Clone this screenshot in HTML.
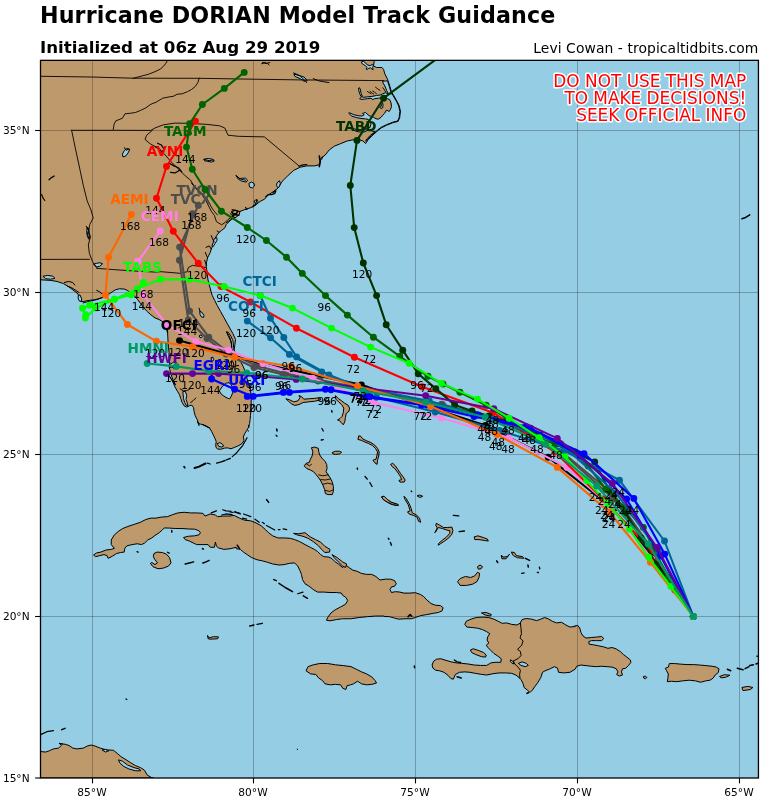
<!DOCTYPE html>
<html lang="en"><head><meta charset="utf-8"><title>Hurricane DORIAN Model Track Guidance</title>
<style>
html,body{margin:0;padding:0;background:#fff}
body{width:768px;height:801px;overflow:hidden;font-family:"DejaVu Sans","Liberation Sans",sans-serif}
svg{display:block}
text{font-family:"DejaVu Sans","Liberation Sans",sans-serif}
.tk{font-size:10.6px;fill:#000}
.hr{font-size:10.6px;fill:#000}
.ml{font-size:13.6px;font-weight:bold}
</style></head><body>
<svg width="768" height="801" viewBox="0 0 768 801">
<rect width="768" height="801" fill="#fff"/>
<defs><clipPath id="c"><rect x="40.5" y="60.35" width="717.95" height="717.65"/></clipPath></defs>
<rect x="40.5" y="60.35" width="717.95" height="717.65" fill="#94cde4"/>
<g clip-path="url(#c)">
<g fill="#be996c" stroke="#000" stroke-width="1" stroke-linejoin="round">
<path d="M40.5,60.35 374.2,60.35 374.22,61.25 373.44,65.94 376.56,67.5 382.03,67.5 383.59,69.45 384.77,73.75 387.5,79.22 389.84,86.25 391.41,91.72 393.75,95.62 396.88,101.09 399.22,105.78 400.39,111.25 400.47,110.99 399.69,117.5 398.12,121.41 392.92,122.71 386.41,125.31 381.2,127.92 377.94,130.52 372.08,135.73 368.18,139.64 365.57,143.54 362.97,140.94 359.06,139.64 353.85,139.64 347.34,140.94 340.83,143.54 334.32,146.15 329.11,150.05 325.21,155 321.09,158.07 319.79,164.58 314.58,165.89 306.77,165.89 300.26,167.19 293.75,170.31 287.24,176.3 282.03,181.51 278.12,188.02 272.92,191.93 267.71,195.31 264.64,199.11 260.73,201.07 258.12,203.02 254.87,205.62 250.96,207.58 247.06,208.88 243.15,210.18 239.9,211.48 239.24,214.74 235.99,217.34 231.43,219.3 228.83,221.9 226.22,224.51 224.92,227.76 221.67,230.36 219.06,232.32 217.11,234.92 215.16,238.18 214.11,242.08 212.55,245.99 211.25,249.24 210.21,252.5 208.91,255.1 207.6,257.71 206.69,261.61 206.04,265.52 206.69,269.43 207.34,274.64 207.99,279.84 209.3,285.05 210.6,290 212.08,295.21 214.69,300.42 217.29,305.62 220.55,311.48 223.8,317.34 227.06,323.2 230.31,329.06 232.92,333.62 235.52,339.48 234.87,344.69 234.22,349.9 235.52,353.8 238.12,357.71 240.73,361.61 243.33,366.82 245.29,372.03 246.98,378.54 248.54,383.75 249.58,388.96 249.84,384.32 250.49,389.53 250.89,394.74 251.15,399.95 251.15,405.16 250.89,410.36 250.49,415.57 250.1,419.48 249.58,423.39 248.54,427.29 246.59,430.55 244.64,433.8 243.33,437.06 243.98,440.31 242.68,442.92 240.08,444.87 237.47,446.17 234.22,447.47 230.96,448.78 227.71,447.86 224.45,448.12 221.2,449.17 217.94,449.17 215.99,447.47 215.73,444.87 216.25,441.61 214.95,438.36 213.39,435.1 211.43,431.2 209.48,427.94 206.22,426.25 202.97,424.69 200.36,424.04 198.41,423.39 197.11,419.48 195.16,415.57 194.11,411.67 193.59,407.76 191.9,405.16 189.3,405.81 186.69,407.11 184.09,405.81 182.14,402.55 180.83,398.65 179.53,394.74 177.58,391.48 174.97,386.93 173.02,382.37 170.42,377.81 167.81,373.91 175.62,385.05 173.02,379.84 171.07,374.64 169.77,369.43 169.11,366.82 169.77,362.92 168.85,357.71 169.11,352.5 168.46,347.29 168.07,342.08 167.81,336.88 167.55,331.67 166.51,326.46 166.46,326.25 163.33,322.08 159.17,319.58 155,317.92 150.83,314.79 146.67,311.04 143.54,307.5 140.42,303.33 137.29,299.17 134.17,295.42 131.04,292.92 127.92,290.83 124.79,289.17 119.58,288.75 115.42,289.79 112.29,291.88 109.17,293.96 105,296.04 101.88,297.5 98.75,298.75 94.58,299.79 90.42,300.21 86.25,300.83 83.12,301.67 81.04,301.25 80,297.08 76.88,292.92 72.71,289.79 68.54,286.67 63.33,283.54 57.08,281.46 50.83,280.42 40.42,279.79 40.5,279.6Z"/>
<path d="M93.54,555 96.67,552.92 100.83,552.08 106.04,550 111.25,549.38 114.38,548.33 111.25,544.58 111.25,540 114.38,534.79 118.54,531.25 122.71,528.54 127.92,526.46 134.17,524.38 140.42,522.29 145.62,519.58 150.83,518.12 156.04,518.12 161.25,517.08 167.5,516.67 172.71,514.58 177.92,512.92 184.17,512.29 190.42,512.92 196.67,512.92 202.92,513.33 205,516.04 210.21,513.96 215.42,515 217.5,516.67 223.75,516.04 230,516.04 234.17,515.42 239.38,518.12 244.58,520.21 250.83,520.83 256.04,522.92 261.25,525.83 265.42,529.58 268.54,532.71 272.71,535.83 277.92,537.92 284.17,537.92 290.42,538.33 294.58,539.58 299.79,541.67 305,544.58 310.21,547.29 314.38,549.38 317.5,551.46 320.62,554.58 323.75,556.67 328.96,557.08 332.08,558.75 335.21,561.88 338.33,563.96 342.5,567.5 345.62,565 349.79,568.12 352.92,570.21 357.08,571.25 361.25,573.33 366.46,574.38 371.67,574.38 375.83,576.46 380,580 385.21,579.17 390.42,579.17 394.58,580.62 396.25,583.75 394.58,586.25 391.46,586.88 390,589.58 391.46,592.5 395.62,591.67 399.79,592.08 403.96,593.12 409.17,593.12 415.42,592.71 420.62,594.58 423.75,596.67 426.88,600 431.04,603.54 435.21,605.21 440.42,605.62 443.12,607.71 442.08,610.83 438.33,612.5 433.12,613.33 426.88,614.58 420.62,615.62 415.42,617.5 411.25,618.75 405,618.75 398.75,619.17 394.58,618.12 389.38,616.67 384.17,616.46 384.17,616.04 375.83,616.04 367.5,616.67 359.17,617.5 350.83,618.75 342.5,618.75 336.25,619.58 330,620.83 326.46,620.21 327.92,617.08 331.04,612.92 335.21,609.79 340.42,607.08 345.62,604.17 347.71,600.42 345.62,597.29 342.5,595.21 341.46,593.12 336.25,592.5 330,592.5 323.75,592.08 317.5,592.08 313.33,589.58 309.17,586.25 305,583.75 302.5,579.58 301.46,574.38 299.79,570.21 297.71,566.04 294.58,562.92 289.38,563.33 284.17,564.58 278.96,565 272.71,563.96 267.5,562.29 262.29,560.83 257.08,559.79 251.88,557.71 247.71,555 243.54,552.08 240.42,549.38 236.25,548.75 236.25,547.29 230,548.75 223.75,549.38 218.54,547.92 216.46,546.25 215.42,542.08 214.38,547.29 210.21,547.29 208.12,544.58 202.92,544.58 196.67,544.58 193.54,543.12 189.38,541.04 185.21,539.58 183.54,537.5 188.33,536.25 194.58,535.83 199.17,534.79 200.42,532.71 198.75,530.62 194.58,529.17 188.33,528.96 182.08,528.54 175.83,528.54 169.58,528.12 164.38,527.92 162.29,530 159.17,532.71 155,535.42 151.88,537.92 147.71,540 144.58,543.12 141.46,544.58 137.29,543.75 132.08,544.58 126.88,545.83 124.79,548.33 124.17,552.08 120.62,552.5 116.46,553.54 112.29,556.25 108.12,558.33 107.08,555.62 103.96,554.58 99.79,555.62 95.62,556.67Z"/>
<path d="M153.96,553.54 157.08,552.08 162.29,552.5 166.46,554.17 169.58,557.71 171.04,562.92 168.54,566.04 163.33,568.12 158.12,568.75 152.92,566.67 150.42,563.33 151.88,562.5 155,564.58 157.5,562.92 155,559.79 153.33,556.67Z"/>
<path d="M207.5,635.42 209.17,637.92 213.33,636.67 218.54,636.88 217.5,638.75 210.21,639.17 208.12,638.75Z"/>
<path d="M293.54,533.33 298.75,533.75 305,532.71 310.21,536.88 315.42,539.58 320.62,542.08 324.79,546.25 330,549.38 329.58,552.08 324.79,552.5 321.67,549.38 318.54,545.83 313.33,541.67 308.12,538.33 302.92,536.25 296.67,534.79Z"/>
<path d="M332.08,554.58 337.29,557.71 342.5,561.88 346.67,563.96 345.62,567.5 342.5,566.04 338.33,561.88 334.17,557.71Z"/>
<path d="M464.79,624.38 466.25,621.25 471.04,619.17 476.25,617.5 482.5,617.08 488.75,617.5 493.96,619.17 498.12,621.25 502.29,623.33 506.46,622.92 511.67,624.38 516.88,625 520,623.33 522.08,619.58 526.25,618.54 531.46,619.17 536.67,620.62 540.83,619.17 544.58,617.5 548.12,618.75 552.29,621.25 556.46,622.92 561.67,622.29 565.83,625 570,627.08 575.21,626.46 574.58,626.04 577.71,625.42 579.79,628.12 580.83,632.29 582.92,635.83 586.04,638.12 591.25,637.5 596.46,637.08 601.67,636.46 603.75,638.54 601.67,640.62 596.46,640.62 591.25,640.62 588.75,641.67 589.17,644.17 593.33,644.79 598.54,645.83 603.75,646.88 607.92,648.33 612.08,647.5 616.25,648.96 620.42,651.67 623.54,654.58 627.08,657.29 630.42,660 630.83,662.5 628.33,665.62 625.62,668.33 622.5,668.75 621.46,671.88 622.5,675 619.38,676.04 616.67,674.58 617.92,671.88 616.25,668.75 612.08,667.08 606.88,666.67 601.67,666.25 596.46,666.67 591.25,666.25 586.04,665.62 580.83,665 576.67,666.25 575.21,669.17 570,672.29 563.75,672.92 558.54,672.29 557.5,668.12 554.38,666.67 550.21,668.75 545,670.83 542.5,672.29 540.83,677.5 537.71,682.71 534.58,686.88 532.5,690 530,692.5 527.29,690 524.17,687.5 523.12,683.75 521.04,679.58 518.96,677.5 515.83,675 511.67,673.33 505.42,672.92 499.17,672.92 492.92,673.75 486.67,675 481.46,674.38 475.21,673.33 470,672.29 464.79,671.88 459.58,672.29 455.42,674.38 453.33,679.17 450.83,678.54 448.12,675.42 443.96,672.29 439.79,670.83 435.62,670.21 432.92,668.12 432.08,665 433.54,661.25 436.67,659.17 440.83,658.75 446.04,660.42 451.25,661.88 456.46,662.92 461.67,663.33 467.92,663.96 474.17,665 480.42,665.42 486.67,665.42 490.83,662.92 495,662.29 500.83,662.29 501.25,658.75 498.12,656.25 493.96,653.54 490.83,650.42 487.71,647.29 486.25,645.21 488.75,643.12 487.08,640 487.71,636.88 489.79,633.75 486.67,631.67 482.5,629.58 477.29,628.12 472.08,627.5 466.88,627.08Z"/>
<path d="M470.42,650 473.12,648.75 478.33,650.42 483.54,652.5 486.25,655 485.62,657.08 481.46,656.67 475.83,654.58 471.67,652.5Z"/>
<path d="M481.46,612.92 486.25,612.5 491.46,614.58 490.42,616.04 485.21,615Z"/>
<path d="M643.33,676.67 645.42,676.04 646.88,677.5 645.42,678.75 643.75,678.12Z"/>
<path d="M665.21,668.33 668.33,667.08 669.38,663.54 674.58,663.54 680.83,664.17 687.08,664.58 693.33,664.58 699.58,665 705.83,665.62 712.08,666.25 716.25,667.08 718.96,668.75 718.33,672.5 715.21,675 713.12,678.12 710,680.21 705.83,680.83 700.62,682.29 695.42,680.83 689.17,680.21 682.92,680.83 676.67,681.67 671.46,681.25 667.29,681.67 667.92,678.12 668.33,673.96 666.67,670.83Z"/>
<path d="M719.56,676.52 724.25,674.7 729.98,675.22 725.55,677.3 721.12,677.82Z"/>
<path d="M741.96,687.46 747.69,686.42 752.9,687.46 750.29,689.54 743,690.58Z"/>
<path d="M305.99,670.79 308.07,666.62 313.28,664.8 319.79,663.5 327.6,663.5 335.42,664.8 343.23,665.58 351.04,666.62 356.25,669.23 361.46,671.83 366.67,673.92 371.88,677.04 375,680.43 376.56,683.03 371.88,684.33 366.67,684.85 361.46,683.81 357.55,681.21 353.65,683.81 350.52,684.85 347.14,685.64 345.83,689.54 342.71,688.24 340.62,684.85 335.42,684.33 330.21,684.85 325,683.81 322.4,680.43 318.49,677.82 315.89,674.44 310.68,673.92Z"/>
<path d="M40.5,751.5 40.36,751.52 45.57,752.04 49.48,750.74 53.39,748.92 58.59,748.14 61.2,745.53 59.9,743.71 65.1,744.23 69.01,745.53 72.92,748.14 76.82,748.92 83.33,748.14 87.24,746.05 91.15,745.01 95.05,746.05 100.26,748.14 106.77,749.96 113.28,750.22 117.19,753.34 121.09,756.73 125,759.07 130.21,762.46 135.42,765.58 140.62,767.67 144.53,770.27 147.14,774.96 151.04,777.3 153.65,778.6 154,778 40.5,778Z"/>
<path d="M285.83,398.75 289.58,399.79 293.75,401.88 297.92,400.83 300,397.71 298.96,395.62 301.67,396.67 303.75,399.17 309.38,398.75 314.58,398.33 319.79,397.71 320.83,399.79 314.58,401.25 308.33,401.88 303.12,402.5 298.96,404.58 294.79,405.42 291.67,403.96 288.54,401.25Z"/>
<path d="M335.42,395.62 338.54,398.75 341.67,400.83 344.79,403.33 347.92,405 349.58,408.12 348.96,411.25 346.25,413.33 345.42,417.5 344.79,421.67 343.33,424.79 341.25,422.71 339.58,420.62 337.5,420 340,418.54 342.08,416.46 343.33,412.29 343.75,408.12 341.67,404.58 338.54,401.88 335.83,399.17Z"/>
<path d="M311.46,447.71 314.58,447.08 318.33,448.33 318.75,451.88 319.79,455 321.88,458.12 325,461.25 326.67,464.38 327.08,468.54 326.04,471.67 328.12,474.79 330.21,477.92 332.29,482.08 333.33,486.25 333.33,491.46 332.29,494.58 328.12,494.58 325.42,493.54 324.58,489.38 322.92,485.21 320.83,481.04 318.75,477.92 316.25,474.79 313.54,471.67 310.42,470 306.67,468.54 304.17,465.83 306.25,463.33 309.38,462.29 310.42,459.17 312.08,456.04 312.92,451.88Z"/>
<path d="M332.29,452.5 335.42,451.25 339.58,451.25 341.67,452.29 339.58,453.96 335.42,454.38 332.92,453.96Z"/>
<path d="M357.92,439.38 358.75,435.83 360.83,436.25 362.5,438.75 366.67,440.83 370.83,442.5 374.58,445 377.5,448.33 379.17,451.88 378.75,456.04 377.5,460.21 377.08,464.38 375,462.92 372.92,460.21 376.04,459.17 377.08,455 377.5,451.88 375.42,448.33 372.5,445.62 368.75,443.54 364.58,441.88 361.46,440.42Z"/>
<path d="M390.62,464.38 392.71,463.33 395.42,465.83 397.92,469.58 400.42,473.33 403.12,476.88 405.21,480 404.17,482.08 400,482.08 398.96,480.42 401.67,479.58 400,475.83 397.5,472.08 394.79,468.54 392.08,466.46Z"/>
<path d="M381.67,497.08 383.75,496.25 386.46,499.17 390.62,501.88 395.83,503.96 398.33,505 395.83,505.42 390.62,503.96 385.83,501.25 382.92,499.17Z"/>
<path d="M457.5,581.67 460.21,578.54 465.42,576.46 470.62,577.5 474.79,575.83 477.5,572.29 479.58,573.33 478.96,577.5 476.88,581.67 472.71,584.17 466.46,585.42 460.21,585.42Z"/>
<path d="M477.5,566.67 480,565 482.5,566.67 481.04,568.75 478.33,569.17Z"/>
<path d="M436.25,523.33 439.38,525 443.54,527.5 447.71,527.5 451.88,527.08 452.92,530.62 451.88,534.17 448.75,537.92 444.58,541.04 440.42,543.75 438.33,545.21 438.33,543.75 442.5,540 446.67,536.88 449.79,533.33 449.79,530.62 446.67,530 442.5,528.54 438.33,527.5 435.83,531.67 434.79,532.71 437.29,527.92 435.83,525.42Z"/>
<path d="M474.17,536.88 477.92,535.83 483.12,537.5 487.29,538.96 488.33,541.04 484.17,540.42 478.96,539.58 474.79,539.58Z"/>
<path d="M403.96,496.25 406.04,498.33 409.17,503.54 411.25,508.75 412.29,512.92 416.46,515 419.58,518.12 420.62,522.29 418.54,521.25 417.08,517.08 413.33,515.42 409.17,513.96 407.5,511.88 410.21,510.83 408.12,504.58 405,499.38Z"/>
<path d="M381.67,496.67 384.17,496.25 387.29,499.38 391.46,502.5 397.71,504.17 398.33,505.42 392.5,504.58 387.29,502.08 383.12,499.38Z"/>
<path d="M417.08,495.83 419.58,495 422.71,496.25 420,497.5Z"/>
<path d="M501.25,555 502.92,557.08 507.08,556.67 509.58,554.17 506.04,558.75 501.88,558.75Z"/>
<path d="M511.25,552.08 514.38,552.5 516.46,555.62 522.71,556.67 523.75,558.33 517.5,557.71 513.33,555.62Z"/>
</g>
<g fill="#94cde4" stroke="#000" stroke-width="1" stroke-linejoin="round">
<path d="M518.33,663.33 522.08,661.88 526.25,663.33 528.33,665.42 525.21,666.67 521.04,665.42Z"/>
<path d="M510.62,659.79 512.71,661.25 514.17,663.96 512.08,663.33 510.21,661.25Z"/>
<path d="M118.49,759.85 122.4,761.16 127.6,765.06 134.11,767.67 139.32,768.97 140.62,770.79 135.42,770.79 128.91,768.97 123.7,766.36 119.79,762.98Z"/>
<path d="M102.08,749.96 105.47,749.44 108.85,750.74 105.47,752.04Z"/>
<path d="M380.56,102.79 382.38,102.33 383.02,105.07 382.66,107.8 381.02,108.44 379.65,107.34 381.2,106.43 381.47,104.43Z"/>
<path d="M361.72,61.64 363.67,61.25 365.62,63.2 367.97,65.16 370.31,65.55 372.66,64.38 373.44,65.94 372.66,67.5 373.05,69.84 371.88,69.06 370.7,67.89 368.75,68.28 367.19,69.45 366.02,69.06 367.19,67.5 365.62,65.94 363.28,64.38 361.56,63.2Z"/>
<path d="M219.24,390.83 222.5,386.28 226.41,383.02 229.01,382.76 231.35,384.97 232.92,388.88 232.66,392.79 231.35,396.04 229.66,398.91 227.06,397.99 223.8,396.04 221.2,394.09Z"/>
<path d="M182.79,391.48 185.39,391.48 186.69,395.39 186.04,399.3 187.34,403.2 187.99,405.81 186.04,405.16 184.74,402.55 183.44,398.65 183.18,394.74Z"/>
<path d="M217.29,443.57 219.9,442.66 222.5,444.22 223.54,446.17 221.2,447.08 218.59,446.17Z"/>
<path d="M169.11,364.87 172.37,362.92 174.97,360.96 176.28,362.27 174.58,364.87 175.62,367.47 173.67,368.78 171.98,366.82 170.16,367.47Z"/>
<path d="M226.41,331.67 228.36,332.32 230.96,336.22 232.92,340.78 233.57,345.99 232.92,350.55 231.35,349.24 231.61,344.69 230.31,340.13 228.36,336.22Z"/>
<path d="M199.71,311.48 201.67,312.14 204.01,315.39 203.62,317.34 201.67,317.08 200.1,314.74Z"/>
<path d="M199.32,335.57 201.02,334.92 202.32,336.61 201.02,337.92 199.58,337.14Z"/>
<path d="M211.04,357.71 212.73,357.06 213.65,359.66 212.6,361.35 211.43,360.05Z"/>
<path d="M210.78,375.68 212.34,375.29 212.73,376.98 211.43,377.5Z"/>
<path d="M214.11,238.83 216.72,237.53 217.11,240.13 215.16,243.39 213.2,246.64 211.9,245.99 213.2,242.73Z"/>
<path d="M122.4,154.17 124.48,150.26 127.08,148.44 129.69,149.48 128.12,152.86 125.52,156.25 122.92,156.77Z"/>
<path d="M87.5,227.08 89.06,229.69 88.54,233.59 90.1,238.02 88.54,239.06 86.98,234.38 86.72,230.21Z"/>
<path d="M203.96,159.17 208.12,158.54 212.29,159.17 214.38,160.83 211.67,162.08 207.5,161.25 204.58,160.83Z"/>
<path d="M235.86,175.31 237.81,176.88 239.77,178.83 242.37,178.18 245.62,178.18 247.58,180.13 246.28,182.08 243.02,181.43 240.42,180.52 238.07,178.83Z"/>
<path d="M248.88,183.39 251.48,182.08 254.09,183.39 254.48,185.99 252.4,187.94 249.53,187.03Z"/>
<path d="M293.75,73.96 298.96,75.52 304.17,77.08 307.29,80.73 304.17,81.25 300.26,78.65 295.05,76.56Z"/>
<path d="M42.92,276.25 47.71,275.42 52.92,276.25 55,278.33 50.83,279.17 45.62,278.75Z"/>
<path d="M78.33,295.42 80,295 81.67,298.75 81.25,301.67 79.17,300.83 78.12,298.12Z"/>
<path d="M93.54,264.17 96.67,263.33 99.79,262.71 102.5,263.75 99.79,266.25 96.25,267.08Z"/>
<path d="M277.14,182.73 279.48,180.78 280.26,183.39 279.48,186.64 277.66,187.55 276.48,185.34Z"/>
<path d="M254.22,200.96 256.69,199.4 257.86,201.61 256.17,203.44 254.35,202.66Z"/>
<path d="M360.51,90.03 359.6,87.75 358.68,88.02 358.68,90.03 359.6,93.67 360.96,96.41 361.81,96.69 362.33,96.22 361.15,93.67Z"/>
<path d="M364.61,99.14 367.34,98.68 370.99,98.23 372.81,99.6 374.64,98.68 378.28,98.23 381.02,97.77 383.75,98.23 387.4,98.68 389.67,99.6 391.04,102.79 391.5,106.43 390.59,109.17 389.22,111.45 386.48,110.08 384.66,113.27 382.84,115.09 381.02,117.37 378.28,119.19 376,118.74 373.72,117.37 371.45,116.46 369.17,115.73 365.52,112.54 362.6,113.36 364.15,114.91 361.88,116.09 358.23,115.73 353.67,114.64 349.11,112.63 348.66,113.27 351.85,116.18 356.41,117.55 360.96,118.46 365.52,118.92 368.26,119.38 369.17,121.02 370.99,123.75 370.08,127.4 367.34,128.76 363.7,129.67 358.23,129.95 353.67,128.76 349.57,127.4 350.03,128.31 353.67,130.31 358.23,131.77 363.7,132.14 367.34,130.59 371.9,130.86 375.52,131.94 377.57,130.11 377.6,130.09 380.86,127.49 380.9,127.46 380.95,127.43 386.16,124.82 386.21,124.8 392.72,122.2 392.79,122.18 397.71,120.94 399.15,117.36 399.87,111.41 399.85,111.37 398.7,105.96 396.39,101.35 393.28,95.9 391.94,93.67 388.31,93.67 385.57,92.76 382.84,93.67 380.1,95.04 376.46,95.49 371.9,96.41 367.34,96.86 363.7,97.32 361.81,96.69 359.6,98.68 360.96,99.32Z"/>
<path d="M372.81,133.32 370.08,135.6 367.34,138.33 365.7,140.52 366.23,141.57 367.72,139.33 367.75,139.29 367.79,139.25 371.69,135.34 371.71,135.32 375.44,132Z"/>
<path d="M387.4,80.91 382.66,81.09 383.02,82.92 384.84,85.92 386.67,90.48 388.49,93.85 391.96,93.71 390.94,92 390.92,91.96 390.9,91.92 390.88,91.87 389.31,86.41 387.59,81.22Z"/>
</g>
<g fill="none" stroke="#000" stroke-linejoin="round" stroke-linecap="round">
<path stroke-width="1.0" d="M520.42,623.33 521.04,628.54 521.46,633.75 520,637.92 523.12,641.04 521.67,645.21 517.5,649.38 520.42,651.46 521.04,655.62 517.92,658.75 513.33,660.83 514.79,663.96 517.92,667.08 520.42,670.21 519.58,674.38 520,678.54"/>
<path stroke-width="1.6" d="M276.67,429.17 277.08,430.83"/>
<path stroke-width="1.2" d="M276.04,435.21 277.08,436.25"/>
<path stroke-width="1.3" d="M321.88,428.54 323.33,431.04"/>
<path stroke-width="1.3" d="M321.25,440 323.33,439.58"/>
<path stroke-width="1.5" d="M331.67,410.83 332.08,412.08"/>
<path stroke-width="1.5" d="M357.29,468.12 357.5,469.17"/>
<path stroke-width="1.3" d="M365,476.46 367.29,479.17"/>
<path stroke-width="1.3" d="M369.79,482.5 372.08,486.46"/>
<path stroke-width="1.2" d="M266.67,499.79 268.75,502.5"/>
<path stroke-width="1.4" d="M453.33,515.42 458.75,515.83"/>
<path stroke-width="1.4" d="M459.17,531.67 464.38,531.04"/>
<path stroke-width="1.5" d="M388.33,538.33 388.96,539.17"/>
<path stroke-width="1.4" d="M390.42,542.5 391.46,545.21"/>
<path stroke-width="1.5" d="M525.42,558.33 529.58,560.42"/>
<path stroke-width="1.5" d="M496.67,560.83 497.71,562.5"/>
<path stroke-width="1.5" d="M527.92,565 528.33,567.08"/>
<path stroke-width="1.3" d="M521.67,573.33 524.17,572.92"/>
<path stroke-width="1.3" d="M537.29,572.29 538.33,572.5"/>
<path stroke-width="1.3" d="M539.38,567.08 539.79,568.75"/>
<path stroke-width="1.3" d="M411.25,491.04 411.67,491.67"/>
<path stroke-width="1.2" d="M230,511.88 233.12,512.5"/>
<path stroke-width="1.2" d="M235.21,511.88 240.42,513.96"/>
<path stroke-width="1.2" d="M243.54,513.96 250.83,516.67"/>
<path stroke-width="1.2" d="M242.5,518.12 246.67,519.17"/>
<path stroke-width="1.2" d="M255,519.17 259.17,522.29"/>
<path stroke-width="1.2" d="M262.29,522.29 264.38,523.75"/>
<path stroke-width="1.2" d="M266.46,525.42 274.79,530"/>
<path stroke-width="1.2" d="M278.33,529.58 280,529.58"/>
<path stroke-width="1.2" d="M283.12,528.96 286.67,529.58"/>
<path stroke-width="1.2" d="M266.46,499.38 268.54,502.08"/>
<path stroke-width="1.5" d="M273.75,579.58 276.25,580.62"/>
<path stroke-width="1.5" d="M278.96,583.33 285.21,587.5 292.5,591.67"/>
<path stroke-width="1.3" d="M297.71,593.75 302.92,592.08"/>
<path stroke-width="1.5" d="M303.33,595.83 307.5,598.33"/>
<path stroke-width="1.4" d="M249.79,626.04 253.96,625"/>
<path stroke-width="1.4" d="M257.08,624.38 262.29,623.33"/>
<path stroke-width="1.5" d="M237.29,545.21 239.38,548.33"/>
<path stroke-width="1.5" d="M171.67,530.62 171.88,532.08"/>
<path stroke-width="1.5" d="M137.08,551.67 138.12,552.08"/>
<path stroke-width="1.3" d="M167.5,552.29 169.17,553.12"/>
<path stroke-width="1.5" d="M202.5,548.54 203.33,549.17"/>
<path stroke-width="1.5" d="M185.21,563.96 189.38,562.92 193.54,561.88"/>
<path stroke-width="1.5" d="M202.92,562.92 206.04,561.88 209.17,560.42"/>
<path stroke-width="1.2" d="M211.25,512.92 216.46,510.83"/>
<path stroke-width="1.2" d="M222.71,509.79 225.83,510.83 231.04,511.25"/>
<path stroke-width="1.2" d="M234.17,511.88 240,513.33"/>
<path stroke-width="1.2" d="M221.67,515 225.83,513.96 232.08,514.58"/>
<path stroke-width="1.6" d="M408.12,616.67 410.21,614.58 411.67,616.25"/>
<path stroke-width="1.5" d="M457.08,676.67 461.25,677.92"/>
<path stroke-width="1.4" d="M454.38,660 457.08,661.88 460.62,662.5"/>
<path stroke-width="1.6" d="M527.08,693.33 528.33,692.71"/>
<path stroke-width="1.5" d="M414.32,666.1 414.58,667.67"/>
<path stroke-width="1.5" d="M727.38,669.23 730.76,670.79"/>
<path stroke-width="1.5" d="M737.27,668.19 743,669.75"/>
<path stroke-width="1.5" d="M745.08,668.71 748.99,666.62"/>
<path stroke-width="1.5" d="M749.77,665.58 753.42,664.8"/>
<path stroke-width="1.5" d="M756.02,664.02 758.62,662.98"/>
<path stroke-width="1.3" d="M756.8,656.21 758.1,656.47"/>
<path stroke-width="1.3" d="M41.15,734.33 46.88,731.73 53.39,730.69"/>
<path stroke-width="1.5" d="M61.72,729.65 65.1,728.34"/>
<path stroke-width="1.3" d="M126.04,698.92 126.82,699.44"/>
<path stroke-width="1.2" d="M59.38,743.45 62.5,743.97"/>
<path stroke-width="1.0" d="M297.14,749.18 297.66,749.44"/>
<path stroke-width="1.5" d="M741.96,218.75 745.6,217.45 749.77,214.84"/>
<path stroke-width="0.9" d="M375.55,87.29 377.83,88.93 380.1,90.48"/>
<path stroke-width="0.9" d="M372.81,90.94 374.64,92.3 376.46,93.67"/>
<path stroke-width="0.9" d="M370.08,91.39 371.9,92.76 373.72,94.13"/>
<path stroke-width="0.9" d="M367.34,91.39 369.17,92.58 370.99,93.67"/>
<path stroke-width="0.9" d="M382.84,87.75 384.21,89.57 385.57,91.85"/>
<path stroke-width="0.9" d="M40.5,76.3 91,77 133,78.2 198.8,78.3 253,79.2 300,79.9 383.5,80.6"/>
<path stroke-width="0.9" d="M133.12,78.33 142.5,75.83 148.75,74.17 155,71.67 160.21,69.17 163.33,66.46 165.83,63.33 167.5,60.42"/>
<path stroke-width="0.9" d="M113.28,129.43 114.06,124.22 115.89,120.83 122.4,118.23 125,113.8 130.21,113.28 135.42,112.5 140.62,110.42 145.83,107.81 151.04,104.17 156.25,102.08 162.76,98.18 169.27,96.88 173.18,96.35 177.08,94.27 182.29,93.75 187.5,91.67 191.41,89.58 195.31,86.46 197.92,82.55 199.22,78.12"/>
<path stroke-width="0.9" d="M71.6,130.3 113.3,130.3 150.8,130.4 155,128 163.3,124.8 174.8,123.1 190.4,123.3 207,124.4 219.6,125.8 224.8,128 228,135.2 238.3,136.3 264.4,136.9 299,165.9"/>
<path stroke-width="0.9" d="M152.29,130.42 146.67,135.21 145,139.38 149.79,143.54 157.08,147.71 164.38,153.96 170.62,161.25 174.79,165.42 180,170.62 185.21,175.83 190.42,180 193.54,185.21 198.75,190.42 207.08,198.75 210.21,205 213.33,210.21 217.5,215"/>
<path stroke-width="0.9" d="M191.46,183.12 195.62,188.33 201.88,194.58 206.04,200.83 208.12,205 211.25,211.25 214.38,215.42 216.46,221.67 221.67,224.79 224.79,222.71 227.92,219.58 234.17,215.42"/>
<path stroke-width="0.9" d="M71.6,130.2 75.5,149 79.4,167 83.3,185.4 87.2,201 91,210 93.2,218 89.8,224.5 88.8,230 87.92,228.33 90.42,236.67 88.33,245 89.38,253.33 92.5,261.67 96.67,267.5"/>
<path stroke-width="0.9" d="M40.5,259.4 89.4,259.3"/>
<path stroke-width="0.9" d="M96.67,268.33 113.33,269.58 134.17,271.04 155,272.08 161,271.7 180,273.3 187.3,271.7 188.3,267.5 192.5,265.4 200.8,266.5 205.4,267.5"/>
<path stroke-width="1.0" d="M180.18,388.88 183.44,390.83 186.69,390.57 189.3,389.53"/>
<path stroke-width="1.0" d="M190.6,402.55 193.2,400.6 195.81,397.99"/>
<path stroke-width="1.2" d="M197.76,422.08 199.06,425.34"/>
<path stroke-width="1.2" d="M202.97,424.69 206.22,426.25 209.48,427.94"/>
<path stroke-width="1.0" d="M199.06,308.23 200.1,311.48"/>
<path stroke-width="1.2" d="M166.51,329.06 167.55,332.32"/>
<path stroke-width="1.0" d="M227.06,332.32 229.66,336.88 231.35,342.08 231.88,347.29"/>
<path stroke-width="1.0" d="M247.89,430.16 248.28,431.2"/>
<path stroke-width="1.0" d="M248.54,425.34 249.06,427.29"/>
<path stroke-width="1.8" d="M184.09,466.74 184.74,467.66"/>
<path stroke-width="2.0" d="M194.51,467.92 199.06,466.61 203.62,464.4 205.57,463.49"/>
<path stroke-width="1.3" d="M207.53,463.1 210.13,464.01"/>
<path stroke-width="1.4" d="M216.64,463.1 221.2,461.8 225.1,460.49"/>
<path stroke-width="1.4" d="M226.41,459.84 230.31,458.28"/>
<path stroke-width="1.2" d="M232.27,456.59 236.17,453.33 239.43,449.43 242.68,445.52 245.29,440.96 246.98,437.71"/>
<path stroke-width="1.0" d="M254.87,205.62 256.17,202.37 256.82,199.77"/>
<path stroke-width="1.0" d="M239.9,211.48 235.99,210.57 232.08,209.53"/>
<path stroke-width="1.0" d="M237.29,215.39 234.04,213.44 231.43,212.14"/>
<path stroke-width="1.0" d="M234.69,217.6 232.08,215.39 230.13,213.44"/>
<path stroke-width="1.0" d="M231.43,219.3 228.83,220.99 226.22,222.55"/>
<path stroke-width="1.0" d="M219.06,232.32 217.11,231.02"/>
<path stroke-width="1.0" d="M214.11,242.08 212.55,238.83 211.25,235.57"/>
<path stroke-width="1.0" d="M211.25,249.24 209.3,245.99 206.04,247.29"/>
<path stroke-width="1.0" d="M207.6,257.71 206.3,255.1 205.39,252.5"/>
<path stroke-width="1.0" d="M206.69,265.52 205.52,262.92 204.74,260.31"/>
<path stroke-width="1.0" d="M124.48,147.66 126.3,150.26 128.91,148.96"/>
<path stroke-width="1.3" d="M48.96,179.69 51.56,177.6 54.17,176.04"/>
<path stroke-width="1.1" d="M41.67,194.53 42.97,197.92 44.79,200.52"/>
<path stroke-width="1.2" d="M157.55,143.23 161.46,145.05 164.06,148.96 161.98,152.08"/>
<path stroke-width="1.2" d="M155.73,146.88 159.38,148.96 162.76,152.86"/>
<path stroke-width="1.2" d="M169.27,163.28 173.96,165.89 178.39,167.71 181.77,171.88"/>
<path stroke-width="1.2" d="M170.57,172.4 175,172.92 179.69,170.31"/>
<path stroke-width="1.0" d="M261.67,63.75 265,62.5 267.92,63.75 269.17,65"/>
<path stroke-width="1.0" d="M293.75,72.92 300.26,76.04 306.77,82.55"/>
<path stroke-width="1.0" d="M313.28,78.65 318.49,80.73 323.7,81.77 328.91,82.55"/>
<path stroke-width="1.0" d="M262.5,62.5 266.41,63.54 269.79,62.5"/>
<path stroke-width="1.0" d="M203.91,159.38 209.11,160.68 213.54,159.9"/>
<path stroke-width="1.0" d="M236.46,176.3 240.36,178.91 245.57,180.21"/>
<path stroke-width="1.0" d="M64.38,282.5 68.54,281.46 72.71,282.5 74.79,285"/>
<path stroke-width="1.0" d="M67.5,286.25 71.67,287.71 75.83,290.42 78.96,292.5"/>
<path stroke-width="1.0" d="M83.12,302.92 89.38,301.25 96.67,299.58 102.92,297.5 108.12,295"/>
<path stroke-width="1.0" d="M96.67,290.42 99.79,291.88 101.88,293.96"/>
<path stroke-width="1.0" d="M86.25,226.25 88.33,230.42 87.29,234.58 89.38,238.75"/>
<path stroke-width="0.9" d="M318.75,474.79 322.92,475.83 328.12,474.79"/>
<path stroke-width="0.9" d="M320.83,479.58 325.42,480 330.21,478.96"/>
<path stroke-width="0.9" d="M323.33,484.17 327.5,483.12 332.29,484.17"/>
<path stroke-width="0.9" d="M325.42,490.42 329.58,491.46 332.92,490"/>
<path stroke-width="0.9" d="M306.25,463.75 309.38,465.83 311.46,464.38"/>
<path stroke-width="1.6" d="M319.32,156.04 320.1,161.25 319.32,166.72"/>
<path stroke-width="1.0" d="M322.71,156.69 321.8,159.3"/>
<path stroke-width="1.3" d="M265.81,196.67 268.41,194.58 271.67,194.58 274.92,193.28 275.83,190.68"/>
<path stroke-width="1.3" d="M272.97,192.5 274.92,191.2"/>
<path stroke-width="1.2" d="M245.62,207.47 246.93,209.43"/>
<path stroke-width="1.2" d="M252.79,206.82 254.09,204.87"/>
<path stroke-width="1.4" d="M231.95,211.38 235.21,210.08 237.81,211.38 236.51,213.33 233.26,213.98 231.95,212.68"/>
<path stroke-width="1.4" d="M232.6,215.29 235.86,214.64 238.85,215.29"/>
<path stroke-width="1.2" d="M299.01,166.2 302.92,164.9 306.82,164.64"/>
</g>
<g stroke="#000" stroke-opacity="0.25" stroke-width="1" fill="none">
<line x1="92.5" y1="60.35" x2="92.5" y2="778.0"/>
<line x1="253.5" y1="60.35" x2="253.5" y2="778.0"/>
<line x1="415.5" y1="60.35" x2="415.5" y2="778.0"/>
<line x1="577.5" y1="60.35" x2="577.5" y2="778.0"/>
<line x1="739.5" y1="60.35" x2="739.5" y2="778.0"/>
<line x1="40.5" y1="130.5" x2="758.45" y2="130.5"/>
<line x1="40.5" y1="292.5" x2="758.45" y2="292.5"/>
<line x1="40.5" y1="454.5" x2="758.45" y2="454.5"/>
<line x1="40.5" y1="616.5" x2="758.45" y2="616.5"/>
</g>
<g stroke-linejoin="round" stroke-linecap="butt">
<path d="M693.3,616.4 654,552 614,495 562,452 502.6,420.8 441.7,404.3 366,389 320,380 285.8,373.6 256.5,365.8 228,352 208.8,337.1 189.6,311.1 179.6,247.1 198.3,205.4" fill="none" stroke="#4d4d4d" stroke-width="2.1"/><g fill="#4d4d4d"><circle cx="693.3" cy="616.4" r="3.45"/><circle cx="654" cy="552" r="3.45"/><circle cx="614" cy="495" r="3.45"/><circle cx="562" cy="452" r="3.45"/><circle cx="502.6" cy="420.8" r="3.45"/><circle cx="441.7" cy="404.3" r="3.45"/><circle cx="366" cy="389" r="3.45"/><circle cx="320" cy="380" r="3.45"/><circle cx="285.8" cy="373.6" r="3.45"/><circle cx="256.5" cy="365.8" r="3.45"/><circle cx="228" cy="352" r="3.45"/><circle cx="208.8" cy="337.1" r="3.45"/><circle cx="189.6" cy="311.1" r="3.45"/><circle cx="179.6" cy="247.1" r="3.45"/><circle cx="198.3" cy="205.4" r="3.45"/></g>
<path d="M693.3,616.4 654.5,553 612,497.5 563,453.5 504,422 443,405.5 368,390.5 318,381 283,374.5 254,367.5 226,354 207,338.5 188.3,320 179.4,260.2 192.5,213.8" fill="none" stroke="#4d4d4d" stroke-width="2.1"/><g fill="#4d4d4d"><circle cx="693.3" cy="616.4" r="3.45"/><circle cx="654.5" cy="553" r="3.45"/><circle cx="612" cy="497.5" r="3.45"/><circle cx="563" cy="453.5" r="3.45"/><circle cx="504" cy="422" r="3.45"/><circle cx="443" cy="405.5" r="3.45"/><circle cx="368" cy="390.5" r="3.45"/><circle cx="318" cy="381" r="3.45"/><circle cx="283" cy="374.5" r="3.45"/><circle cx="254" cy="367.5" r="3.45"/><circle cx="226" cy="354" r="3.45"/><circle cx="207" cy="338.5" r="3.45"/><circle cx="188.3" cy="320" r="3.45"/><circle cx="179.4" cy="260.2" r="3.45"/><circle cx="192.5" cy="213.8" r="3.45"/></g>
<g class="hr" text-anchor="middle"><text x="612.8" y="510.4">24</text><text x="501.4" y="436.2">48</text><text x="364.8" y="404.4">72</text><text x="284.6" y="389.0">96</text><text x="226.8" y="367.4">120</text><text x="188.4" y="326.5">144</text><text x="197.1" y="220.8">168</text></g><text class="ml" text-anchor="middle" fill="#4d4d4d" x="197.0" y="195.1">TVCN</text>
<g class="hr" text-anchor="middle"><text x="610.8" y="512.9">24</text><text x="502.8" y="437.4">48</text><text x="366.8" y="405.9">72</text><text x="281.8" y="389.9">96</text><text x="224.8" y="369.4">120</text><text x="187.1" y="335.4">144</text><text x="191.3" y="229.2">168</text></g><text class="ml" text-anchor="middle" fill="#4d4d4d" x="190.8" y="204.3">TVCX</text>
<path d="M693.3,616.4 653,557 609.7,506 548.2,457.3 485.6,425.5 361.4,384.9 263,364 179.5,340.6" fill="none" stroke="#000000" stroke-width="2.1"/><g fill="#000000"><circle cx="693.3" cy="616.4" r="3.45"/><circle cx="653" cy="557" r="3.45"/><circle cx="609.7" cy="506" r="3.45"/><circle cx="548.2" cy="457.3" r="3.45"/><circle cx="485.6" cy="425.5" r="3.45"/><circle cx="361.4" cy="384.9" r="3.45"/><circle cx="263" cy="364" r="3.45"/><circle cx="179.5" cy="340.6" r="3.45"/></g>
<path d="M693.3,616.4 652,559 610.5,506.5 567.1,467.4 509.1,437.8 441.4,417.9 373.8,402.4 312.5,378.2 263,363.8 228.6,350.1 195.8,341.4 167.3,325 143,295 138,261.3 160.2,231" fill="none" stroke="#ff80e6" stroke-width="2.1"/><g fill="#ff80e6"><circle cx="693.3" cy="616.4" r="3.45"/><circle cx="652" cy="559" r="3.45"/><circle cx="610.5" cy="506.5" r="3.45"/><circle cx="567.1" cy="467.4" r="3.45"/><circle cx="509.1" cy="437.8" r="3.45"/><circle cx="441.4" cy="417.9" r="3.45"/><circle cx="373.8" cy="402.4" r="3.45"/><circle cx="312.5" cy="378.2" r="3.45"/><circle cx="263" cy="363.8" r="3.45"/><circle cx="228.6" cy="350.1" r="3.45"/><circle cx="195.8" cy="341.4" r="3.45"/><circle cx="167.3" cy="325" r="3.45"/><circle cx="143" cy="295" r="3.45"/><circle cx="138" cy="261.3" r="3.45"/><circle cx="160.2" cy="231" r="3.45"/></g>
<path d="M693.3,616.4 652,551 603,499 555,452 493.1,412.7 422.1,386.7 354.4,357.3 296.4,328.2 250.5,302 221,286.6 198.3,263.3 173.3,231.3 156.5,198.3 166.5,166.5 195.4,121.3" fill="none" stroke="#ff0000" stroke-width="2.1"/><g fill="#ff0000"><circle cx="693.3" cy="616.4" r="3.45"/><circle cx="652" cy="551" r="3.45"/><circle cx="603" cy="499" r="3.45"/><circle cx="555" cy="452" r="3.45"/><circle cx="493.1" cy="412.7" r="3.45"/><circle cx="422.1" cy="386.7" r="3.45"/><circle cx="354.4" cy="357.3" r="3.45"/><circle cx="296.4" cy="328.2" r="3.45"/><circle cx="250.5" cy="302" r="3.45"/><circle cx="221" cy="286.6" r="3.45"/><circle cx="198.3" cy="263.3" r="3.45"/><circle cx="173.3" cy="231.3" r="3.45"/><circle cx="156.5" cy="198.3" r="3.45"/><circle cx="166.5" cy="166.5" r="3.45"/><circle cx="195.4" cy="121.3" r="3.45"/></g>
<path d="M693.3,616.4 675,590 657,565 641,538 625.3,512.5 609,490 594.7,462 575,452 557.3,443.7 540,435 523,428 506,421.5 489,416 472,411 454.7,404.9 435.8,388.6 418.2,373.7 402.7,350.2 386.2,324.7 376.6,295.6 363.3,263 354.2,227.6 350.3,185.4 357,140.4 383.6,98.2 470,34.2" fill="none" stroke="#003200" stroke-width="2.1"/><g fill="#003200"><circle cx="693.3" cy="616.4" r="3.45"/><circle cx="675" cy="590" r="3.45"/><circle cx="657" cy="565" r="3.45"/><circle cx="641" cy="538" r="3.45"/><circle cx="625.3" cy="512.5" r="3.45"/><circle cx="609" cy="490" r="3.45"/><circle cx="594.7" cy="462" r="3.45"/><circle cx="575" cy="452" r="3.45"/><circle cx="557.3" cy="443.7" r="3.45"/><circle cx="540" cy="435" r="3.45"/><circle cx="523" cy="428" r="3.45"/><circle cx="506" cy="421.5" r="3.45"/><circle cx="489" cy="416" r="3.45"/><circle cx="472" cy="411" r="3.45"/><circle cx="454.7" cy="404.9" r="3.45"/><circle cx="435.8" cy="388.6" r="3.45"/><circle cx="418.2" cy="373.7" r="3.45"/><circle cx="402.7" cy="350.2" r="3.45"/><circle cx="386.2" cy="324.7" r="3.45"/><circle cx="376.6" cy="295.6" r="3.45"/><circle cx="363.3" cy="263" r="3.45"/><circle cx="354.2" cy="227.6" r="3.45"/><circle cx="350.3" cy="185.4" r="3.45"/><circle cx="357" cy="140.4" r="3.45"/><circle cx="383.6" cy="98.2" r="3.45"/></g>
<path d="M693.3,616.4 668,578 643.4,527.5 624,507 605.8,489.3 588.2,465.9 572,452 555,444 538.2,438 486.2,405.3 459.9,392.3 443,384 428,376.3 399.8,356.3 373.4,337.2 347.4,315.1 325.5,295.6 302.3,273.4 286.5,257.2 266.4,240.5 247.3,227.5 221.4,211.2 205,189.5 192.3,169.2 186.5,147.1 189.6,123.8 202.4,104.5 224.3,88.4 244.2,72.4" fill="none" stroke="#006400" stroke-width="2.1"/><g fill="#006400"><circle cx="693.3" cy="616.4" r="3.45"/><circle cx="668" cy="578" r="3.45"/><circle cx="643.4" cy="527.5" r="3.45"/><circle cx="624" cy="507" r="3.45"/><circle cx="605.8" cy="489.3" r="3.45"/><circle cx="588.2" cy="465.9" r="3.45"/><circle cx="572" cy="452" r="3.45"/><circle cx="555" cy="444" r="3.45"/><circle cx="538.2" cy="438" r="3.45"/><circle cx="486.2" cy="405.3" r="3.45"/><circle cx="459.9" cy="392.3" r="3.45"/><circle cx="443" cy="384" r="3.45"/><circle cx="428" cy="376.3" r="3.45"/><circle cx="399.8" cy="356.3" r="3.45"/><circle cx="373.4" cy="337.2" r="3.45"/><circle cx="347.4" cy="315.1" r="3.45"/><circle cx="325.5" cy="295.6" r="3.45"/><circle cx="302.3" cy="273.4" r="3.45"/><circle cx="286.5" cy="257.2" r="3.45"/><circle cx="266.4" cy="240.5" r="3.45"/><circle cx="247.3" cy="227.5" r="3.45"/><circle cx="221.4" cy="211.2" r="3.45"/><circle cx="205" cy="189.5" r="3.45"/><circle cx="192.3" cy="169.2" r="3.45"/><circle cx="186.5" cy="147.1" r="3.45"/><circle cx="189.6" cy="123.8" r="3.45"/><circle cx="202.4" cy="104.5" r="3.45"/><circle cx="224.3" cy="88.4" r="3.45"/><circle cx="244.2" cy="72.4" r="3.45"/></g>
<path d="M693.3,616.4 658.4,551.2 616,493 560.5,443.6 492.5,419.5 429.3,401 358,386.5 321.7,371.9 289.4,354.4 270.5,337.8 247.3,321.1" fill="none" stroke="#006699" stroke-width="2.1"/><g fill="#006699"><circle cx="693.3" cy="616.4" r="3.45"/><circle cx="658.4" cy="551.2" r="3.45"/><circle cx="616" cy="493" r="3.45"/><circle cx="560.5" cy="443.6" r="3.45"/><circle cx="492.5" cy="419.5" r="3.45"/><circle cx="429.3" cy="401" r="3.45"/><circle cx="358" cy="386.5" r="3.45"/><circle cx="321.7" cy="371.9" r="3.45"/><circle cx="289.4" cy="354.4" r="3.45"/><circle cx="270.5" cy="337.8" r="3.45"/><circle cx="247.3" cy="321.1" r="3.45"/></g>
<path d="M693.3,616.4 664.5,541 619.5,480.2 564.5,450.8 499.5,430.5 435.2,412.1 376.4,397.3 328.9,374.9 296.6,356.9 283.8,337.5 270.5,318.2 260.2,295.5" fill="none" stroke="#006699" stroke-width="2.1"/><g fill="#006699"><circle cx="693.3" cy="616.4" r="3.45"/><circle cx="664.5" cy="541" r="3.45"/><circle cx="619.5" cy="480.2" r="3.45"/><circle cx="564.5" cy="450.8" r="3.45"/><circle cx="499.5" cy="430.5" r="3.45"/><circle cx="435.2" cy="412.1" r="3.45"/><circle cx="376.4" cy="397.3" r="3.45"/><circle cx="328.9" cy="374.9" r="3.45"/><circle cx="296.6" cy="356.9" r="3.45"/><circle cx="283.8" cy="337.5" r="3.45"/><circle cx="270.5" cy="318.2" r="3.45"/><circle cx="260.2" cy="295.5" r="3.45"/></g>
<path d="M693.3,616.4 660.5,556 626.6,499 580,455.5 530.4,428.1 474,416.5 421.5,405 366,397 325.4,389.2 283.4,392.4 247.3,396.4" fill="none" stroke="#0000ff" stroke-width="2.1"/><g fill="#0000ff"><circle cx="693.3" cy="616.4" r="3.45"/><circle cx="660.5" cy="556" r="3.45"/><circle cx="626.6" cy="499" r="3.45"/><circle cx="580" cy="455.5" r="3.45"/><circle cx="530.4" cy="428.1" r="3.45"/><circle cx="474" cy="416.5" r="3.45"/><circle cx="421.5" cy="405" r="3.45"/><circle cx="366" cy="397" r="3.45"/><circle cx="325.4" cy="389.2" r="3.45"/><circle cx="283.4" cy="392.4" r="3.45"/><circle cx="247.3" cy="396.4" r="3.45"/></g>
<path d="M693.3,616.4 664.7,554.1 633.8,498.4 584,453.6 526,426.7 478,415 426.7,405 369.9,396.6 331.1,389.7 289.4,392.4 253.2,396.4 234.6,389.2 211.6,379" fill="none" stroke="#0000ff" stroke-width="2.1"/><g fill="#0000ff"><circle cx="693.3" cy="616.4" r="3.45"/><circle cx="664.7" cy="554.1" r="3.45"/><circle cx="633.8" cy="498.4" r="3.45"/><circle cx="584" cy="453.6" r="3.45"/><circle cx="526" cy="426.7" r="3.45"/><circle cx="478" cy="415" r="3.45"/><circle cx="426.7" cy="405" r="3.45"/><circle cx="369.9" cy="396.6" r="3.45"/><circle cx="331.1" cy="389.7" r="3.45"/><circle cx="289.4" cy="392.4" r="3.45"/><circle cx="253.2" cy="396.4" r="3.45"/><circle cx="234.6" cy="389.2" r="3.45"/><circle cx="211.6" cy="379" r="3.45"/></g>
<path d="M693.3,616.4 657,547.5 612.3,483.4 557.3,438.4 493.8,408.8 425.7,395.8 357.5,387.3 296.2,379.4 256,376 218.5,373.6 192.5,373.6 166.5,373.6" fill="none" stroke="#660099" stroke-width="2.1"/><g fill="#660099"><circle cx="693.3" cy="616.4" r="3.45"/><circle cx="657" cy="547.5" r="3.45"/><circle cx="612.3" cy="483.4" r="3.45"/><circle cx="557.3" cy="438.4" r="3.45"/><circle cx="493.8" cy="408.8" r="3.45"/><circle cx="425.7" cy="395.8" r="3.45"/><circle cx="357.5" cy="387.3" r="3.45"/><circle cx="296.2" cy="379.4" r="3.45"/><circle cx="256" cy="376" r="3.45"/><circle cx="218.5" cy="373.6" r="3.45"/><circle cx="192.5" cy="373.6" r="3.45"/><circle cx="166.5" cy="373.6" r="3.45"/></g>
<path d="M693.3,616.4 650.4,562.3 609.7,512.5 557.3,467.4 497,434.5 430.6,406.2 357.5,386.2 291,366.5 234.6,357.3 192.6,346.7 156.4,341.3 127.4,324.5 105.4,295.3 108.5,257.3 131.3,214.5" fill="none" stroke="#ff6600" stroke-width="2.1"/><g fill="#ff6600"><circle cx="693.3" cy="616.4" r="3.45"/><circle cx="650.4" cy="562.3" r="3.45"/><circle cx="609.7" cy="512.5" r="3.45"/><circle cx="557.3" cy="467.4" r="3.45"/><circle cx="497" cy="434.5" r="3.45"/><circle cx="430.6" cy="406.2" r="3.45"/><circle cx="357.5" cy="386.2" r="3.45"/><circle cx="291" cy="366.5" r="3.45"/><circle cx="234.6" cy="357.3" r="3.45"/><circle cx="192.6" cy="346.7" r="3.45"/><circle cx="156.4" cy="341.3" r="3.45"/><circle cx="127.4" cy="324.5" r="3.45"/><circle cx="105.4" cy="295.3" r="3.45"/><circle cx="108.5" cy="257.3" r="3.45"/><circle cx="131.3" cy="214.5" r="3.45"/></g>
<path d="M693.3,616.4 670.9,586.4 648.6,557.3 629.4,529 608,504 586.8,480.8 565.1,456.6 539.1,437.8 509.1,418.2 477.5,399.1 441.4,383.4 409.1,363.3 370.6,347.1 331.5,328.1 292.4,308.1 260.4,295.6 224.2,286.5 189.6,279.4 160.5,279.3 137.3,288.9 114.5,299.3 89.4,305.3 82.5,308.3 85.8,314.7 85.4,318 95.7,308 114.5,299.3 131.1,294.7 143.3,282.3" fill="none" stroke="#00ff00" stroke-width="2.1"/><g fill="#00ff00"><circle cx="693.3" cy="616.4" r="3.45"/><circle cx="670.9" cy="586.4" r="3.45"/><circle cx="648.6" cy="557.3" r="3.45"/><circle cx="629.4" cy="529" r="3.45"/><circle cx="608" cy="504" r="3.45"/><circle cx="586.8" cy="480.8" r="3.45"/><circle cx="565.1" cy="456.6" r="3.45"/><circle cx="539.1" cy="437.8" r="3.45"/><circle cx="509.1" cy="418.2" r="3.45"/><circle cx="477.5" cy="399.1" r="3.45"/><circle cx="441.4" cy="383.4" r="3.45"/><circle cx="409.1" cy="363.3" r="3.45"/><circle cx="370.6" cy="347.1" r="3.45"/><circle cx="331.5" cy="328.1" r="3.45"/><circle cx="292.4" cy="308.1" r="3.45"/><circle cx="260.4" cy="295.6" r="3.45"/><circle cx="224.2" cy="286.5" r="3.45"/><circle cx="189.6" cy="279.4" r="3.45"/><circle cx="160.5" cy="279.3" r="3.45"/><circle cx="137.3" cy="288.9" r="3.45"/><circle cx="114.5" cy="299.3" r="3.45"/><circle cx="89.4" cy="305.3" r="3.45"/><circle cx="82.5" cy="308.3" r="3.45"/><circle cx="85.8" cy="314.7" r="3.45"/><circle cx="85.4" cy="318" r="3.45"/><circle cx="95.7" cy="308" r="3.45"/><circle cx="114.5" cy="299.3" r="3.45"/><circle cx="131.1" cy="294.7" r="3.45"/><circle cx="143.3" cy="282.3" r="3.45"/></g>
<path d="M693.3,616.4 648.2,544 596.7,486 545.6,444.3 485.3,417.3 425.7,402.3 363.4,391 302.3,379 246.7,372.9 208.8,371 176.2,366.4 147.2,363.5" fill="none" stroke="#009966" stroke-width="2.1"/><g fill="#009966"><circle cx="693.3" cy="616.4" r="3.45"/><circle cx="648.2" cy="544" r="3.45"/><circle cx="596.7" cy="486" r="3.45"/><circle cx="545.6" cy="444.3" r="3.45"/><circle cx="485.3" cy="417.3" r="3.45"/><circle cx="425.7" cy="402.3" r="3.45"/><circle cx="363.4" cy="391" r="3.45"/><circle cx="302.3" cy="379" r="3.45"/><circle cx="246.7" cy="372.9" r="3.45"/><circle cx="208.8" cy="371" r="3.45"/><circle cx="176.2" cy="366.4" r="3.45"/><circle cx="147.2" cy="363.5" r="3.45"/></g>
<g class="hr" text-anchor="middle"><text x="595.5" y="501.4">24</text><text x="484.1" y="432.7">48</text><text x="362.2" y="406.4">72</text><text x="245.5" y="388.2">96</text><text x="175.0" y="381.8">120</text></g><text class="ml" text-anchor="middle" fill="#009966" x="148.2" y="353.0">HMNI</text>
<g class="hr" text-anchor="middle"><text x="606.8" y="519.3">24</text><text x="507.9" y="433.6">48</text><text x="369.4" y="362.5">72</text><text x="223.0" y="301.9">96</text><text x="111.1" y="317.2">120</text><text x="143.3" y="297.9">168</text></g><text class="ml" text-anchor="middle" fill="#00ff00" x="142.5" y="272.0">TABS</text>
<g class="hr" text-anchor="middle"><text x="608.5" y="527.8">24</text><text x="495.8" y="449.9">48</text><text x="356.3" y="401.6">72</text><text x="233.4" y="372.7">96</text><text x="155.2" y="356.7">120</text><text x="104.2" y="310.7">144</text><text x="130.1" y="229.9">168</text></g><text class="ml" text-anchor="middle" fill="#ff6600" x="129.4" y="204.1">AEMI</text>
<g class="hr" text-anchor="middle"><text x="611.1" y="498.8">24</text><text x="492.6" y="424.2">48</text><text x="356.3" y="402.7">72</text><text x="254.8" y="391.4">96</text><text x="191.3" y="389.0">120</text></g><text class="ml" text-anchor="middle" fill="#660099" x="166.5" y="363.0">HWFI</text>
<g class="hr" text-anchor="middle"><text x="632.6" y="513.8">24</text><text x="524.8" y="442.1">48</text><text x="425.5" y="420.4">72</text><text x="329.9" y="405.1">96</text><text x="252.0" y="411.8">120</text><text x="210.4" y="394.4">144</text></g><text class="ml" text-anchor="middle" fill="#0000ff" x="211.4" y="369.6">EGRI</text>
<g class="hr" text-anchor="middle"><text x="625.4" y="514.4">24</text><text x="529.2" y="443.5">48</text><text x="420.3" y="420.4">72</text><text x="324.2" y="404.6">96</text><text x="246.1" y="411.8">120</text></g><text class="ml" text-anchor="middle" fill="#0000ff" x="246.7" y="385.2">UKXI</text>
<g class="hr" text-anchor="middle"><text x="618.3" y="495.6">24</text><text x="498.3" y="445.9">48</text><text x="375.2" y="412.7">72</text><text x="295.4" y="372.2">96</text><text x="269.3" y="333.6">120</text></g><text class="ml" text-anchor="middle" fill="#006699" x="259.6" y="285.5">CTCI</text>
<g class="hr" text-anchor="middle"><text x="614.8" y="508.4">24</text><text x="491.3" y="434.9">48</text><text x="356.8" y="401.9">72</text><text x="288.2" y="369.8">96</text><text x="246.1" y="336.5">120</text></g><text class="ml" text-anchor="middle" fill="#006699" x="246.0" y="311.0">COTI</text>
<g class="hr" text-anchor="middle"><text x="604.6" y="504.7">24</text><text x="537.0" y="453.4">48</text><text x="426.8" y="391.7">72</text><text x="324.3" y="311.0">96</text><text x="246.1" y="242.9">120</text><text x="185.3" y="162.5">144</text></g><text class="ml" text-anchor="middle" fill="#006400" x="185.2" y="136.1">TABM</text>
<g class="hr" text-anchor="middle"><text x="624.1" y="527.8">24</text><text x="556.1" y="459.1">48</text><text x="487.8" y="431.4">72</text><text x="417.0" y="389.1">96</text><text x="362.1" y="278.4">120</text></g><text class="ml" text-anchor="middle" fill="#003200" x="356.3" y="130.6">TABD</text>
<g class="hr" text-anchor="middle"><text x="601.8" y="514.4">24</text><text x="491.9" y="428.1">48</text><text x="353.2" y="372.7">72</text><text x="249.3" y="317.4">96</text><text x="197.1" y="278.7">120</text><text x="155.3" y="213.7">144</text></g><text class="ml" text-anchor="middle" fill="#ff0000" x="165.0" y="156.4">AVNI</text>
<g class="hr" text-anchor="middle"><text x="609.3" y="521.8">24</text><text x="507.9" y="453.2">48</text><text x="372.6" y="417.8">72</text><text x="261.8" y="379.2">96</text><text x="194.6" y="356.8">120</text><text x="141.8" y="310.4">144</text><text x="159.0" y="246.4">168</text></g><text class="ml" text-anchor="middle" fill="#ff80e6" x="159.8" y="220.5">CEMI</text>
<g class="hr" text-anchor="middle"><text x="608.5" y="521.3">24</text><text x="484.4" y="440.9">48</text><text x="360.2" y="400.2">72</text><text x="261.8" y="379.4">96</text><text x="178.3" y="356.0">120</text></g><text class="ml" text-anchor="middle" fill="#000000" x="178.8" y="329.8">OFCI</text>
</g>
</g>
<g font-size="16.9px" fill="#ff0000" stroke="#fff" stroke-width="3" stroke-linejoin="round" paint-order="stroke" text-anchor="end">
<text x="746.2" y="86.65">DO NOT USE THIS MAP</text>
<text x="746.2" y="103.95">TO MAKE DECISIONS!</text>
<text x="746.2" y="121.25">SEEK OFFICIAL INFO</text>
</g>
<rect x="40.5" y="60.35" width="717.95" height="717.65" fill="none" stroke="#000" stroke-width="1.3"/>
<g stroke="#000" stroke-width="1.1">
<line x1="92.5" y1="778.0" x2="92.5" y2="783.4"/>
<line x1="253.5" y1="778.0" x2="253.5" y2="783.4"/>
<line x1="415.5" y1="778.0" x2="415.5" y2="783.4"/>
<line x1="577.5" y1="778.0" x2="577.5" y2="783.4"/>
<line x1="739.5" y1="778.0" x2="739.5" y2="783.4"/>
<line x1="40.5" y1="130.5" x2="35.1" y2="130.5"/>
<line x1="40.5" y1="292.5" x2="35.1" y2="292.5"/>
<line x1="40.5" y1="454.5" x2="35.1" y2="454.5"/>
<line x1="40.5" y1="616.5" x2="35.1" y2="616.5"/>
<line x1="40.5" y1="778.0" x2="35.1" y2="778.0"/>
</g>
<g class="tk" text-anchor="middle">
<text x="92.0" y="796.35">85°W</text>
<text x="253.0" y="796.35">80°W</text>
<text x="415.0" y="796.35">75°W</text>
<text x="577.0" y="796.35">70°W</text>
<text x="739.0" y="796.35">65°W</text>
</g><g class="tk" text-anchor="end">
<text x="29.6" y="134.4">35°N</text>
<text x="29.6" y="296.4">30°N</text>
<text x="29.6" y="458.4">25°N</text>
<text x="29.6" y="620.4">20°N</text>
<text x="29.6" y="781.9">15°N</text>
</g>
<text x="40" y="22.6" font-size="22.2px" font-weight="bold" fill="#000" textLength="515.3" lengthAdjust="spacing">Hurricane DORIAN Model Track Guidance</text>
<text x="40" y="52.8" font-size="16.67px" font-weight="bold" fill="#000">Initialized at 06z Aug 29 2019</text>
<text x="533.2" y="52.8" font-size="13.89px" fill="#000" textLength="225.2" lengthAdjust="spacing">Levi Cowan - tropicaltidbits.com</text>
</svg></body></html>
